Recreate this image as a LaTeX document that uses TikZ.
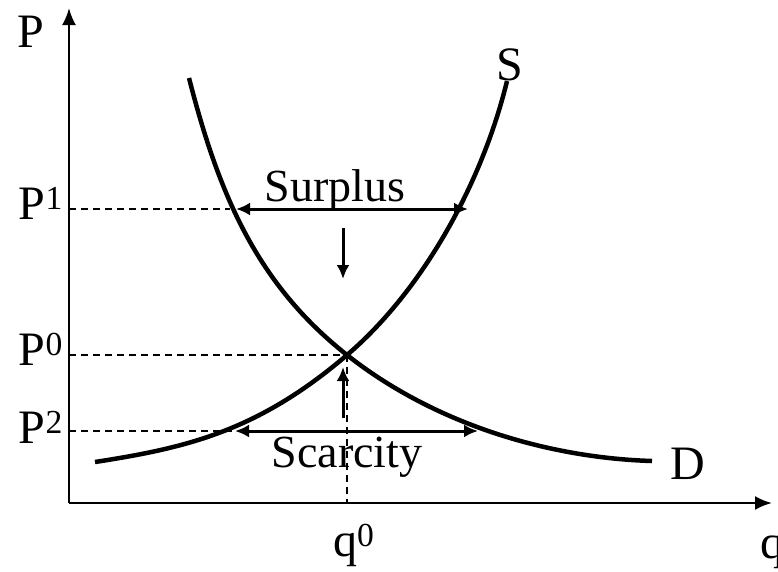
\documentclass[tikz,border=0pt]{standalone}
\usepackage{fontspec}
\setmainfont{Liberation Serif}
\usetikzlibrary{arrows.meta}
\begin{document}
\begin{tikzpicture}[x=1pt,y=-1pt,
 curve/.style={line width=4.5pt},
 axis/.style={line width=2.5pt,-{Latex[length=17pt,width=14pt]}},
 guide/.style={line width=1.5pt, dash pattern=on 7pt off 5pt},
 move/.style={line width=3pt,-{Latex[length=14pt,width=13pt]}},
 both/.style={line width=3pt,{Latex[length=14pt,width=13pt]}-{Latex[length=14pt,width=13pt]}},
 lab/.style={font=\fontsize{48}{56}\selectfont, inner sep=0pt},
 txt/.style={font=\fontsize{46}{54}\selectfont, inner sep=0pt}]
\useasboundingbox (0,0) rectangle (778,571);
\coordinate (O) at (69,503);
\coordinate (ytop) at (69,8);
\coordinate (xend) at (772,503);
\coordinate (E) at (347,355);
\coordinate (y1) at (69,209);
\coordinate (y0) at (69,355);
\coordinate (y2) at (69,431);
\coordinate (x0) at (347,503);
\coordinate (d1) at (230,209);
\coordinate (d2) at (236,431);
\coordinate (Sa) at (95,462);
\coordinate (Sb) at (507,81);
\coordinate (Da) at (189,78);
\coordinate (Db) at (652,461);
% guides
\draw[guide] (y1) -- (d1);
\draw[guide] (y0) -- (E);
\draw[guide] (y2) -- (d2);
\draw[guide] (E) -- (x0);
% axes
\draw[axis] (O) -- (ytop);
\draw[axis] (O) -- (xend);
% curves
\draw[curve] (Sa) .. controls (185,448) and (257,432) .. (E)
             .. controls (422,291) and (482,184) .. (Sb);
\draw[curve] (Da) .. controls (219,195) and (257,284) .. (E)
             .. controls (437,426) and (552,458) .. (Db);
% arrows
\coordinate (sl) at (236,209);
\coordinate (sr) at (468,209);
\coordinate (cl) at (235,431);
\coordinate (cr) at (478,431);
\coordinate (da) at (343,228);
\coordinate (db) at (343,279);
\coordinate (ua) at (343,418);
\coordinate (ub) at (343,367);
\draw[both] (sl) -- (sr);
\draw[both] (cl) -- (cr);
\draw[move] (da) -- (db);
\draw[move] (ua) -- (ub);
% labels
\node[lab, anchor=base west] (Plab) at (17,47) {P};
\node[lab, anchor=base east] (P1) at (63,219) {P\textsuperscript{1}};
\node[lab, anchor=base east] (P0) at (63,365) {P\textsuperscript{0}};
\node[lab, anchor=base east] (P2) at (63,443) {P\textsuperscript{2}};
\node[lab, anchor=base west] (q0) at (333,556) {q\textsuperscript{0}};
\node[lab, anchor=base west] (q) at (760,558) {q};
\node[lab, anchor=base west] (Slab) at (496,80) {S};
\node[lab, anchor=base west] (Dlab) at (670,479) {D};
\node[txt, anchor=base] (sur) at (335,201) {Surplus};
\node[txt, anchor=base] (sca) at (347,467) {Scarcity};
\end{tikzpicture}
\end{document}
